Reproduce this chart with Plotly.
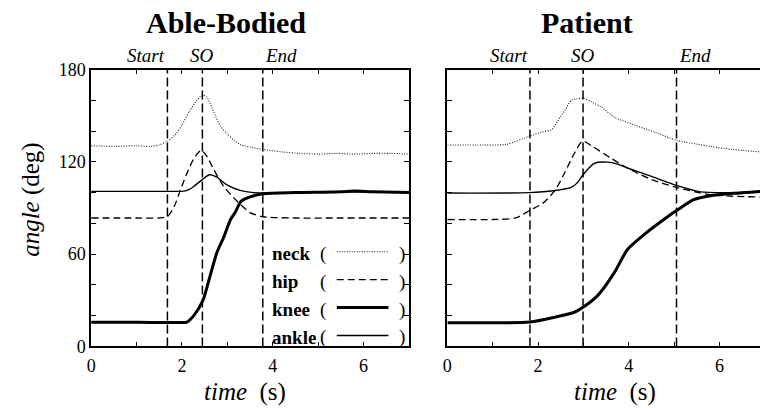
import plotly.graph_objects as go

FONT = "Liberation Serif"

# ---------------- data ----------------
ab_neck_t = [0, 0.5, 1.0, 1.3, 1.5, 1.68, 1.85, 2.0, 2.15, 2.3, 2.45, 2.55, 2.65, 2.75, 2.85, 3.0, 3.15, 3.3, 3.6, 3.8, 4.2, 4.6, 5.0, 5.4, 5.8, 6.2, 6.6, 7.0]
ab_neck_v = [130.5, 130, 130.5, 130, 131, 133.5, 137.5, 144, 152, 159, 163.5, 162, 156, 149, 143, 138, 134, 131, 129, 128, 126.5, 125.5, 125, 125.5, 125, 125.5, 125.5, 125]

ab_hip_t = [0, 1.0, 1.5, 1.68, 1.83, 1.97, 2.11, 2.26, 2.42, 2.55, 2.7, 2.92, 3.21, 3.5, 3.79, 4.5, 5.5, 7.0]
ab_hip_v = [83.5, 83.5, 83.5, 84.5, 91, 102, 112.5, 122, 127.5, 123.5, 115, 104, 94.5, 87, 84.3, 83.5, 83.5, 83.5]

ab_knee_t = [0, 1.0, 2.0, 2.11, 2.26, 2.46, 2.62, 2.77, 2.92, 3.07, 3.17, 3.3, 3.5, 3.79, 4.5, 5.5, 5.8, 6.2, 7.0]
ab_knee_v = [15.7, 15.7, 15.5, 15.8, 20, 29.7, 45.9, 61, 71, 82.5, 87, 94.3, 97.2, 99.3, 100, 100.5, 101, 100.5, 100]

ab_ankle_t = [0, 1.5, 2.04, 2.15, 2.26, 2.44, 2.61, 2.77, 2.99, 3.28, 3.57, 4.5, 5.5, 7.0]
ab_ankle_v = [100.8, 100.8, 101, 102, 104, 108.3, 111.6, 110, 105, 101.4, 100, 100, 100.5, 100]

ab_events = [1.68, 2.45, 3.78]

pt_neck_t = [0, 0.8, 1.3, 1.82, 2.1, 2.3, 2.44, 2.6, 2.73, 2.85, 2.99, 3.17, 3.39, 3.68, 4.12, 4.6, 5.05, 5.5, 5.8, 6.3, 6.89]
pt_neck_v = [131, 131, 131.4, 136.8, 139.5, 141, 147, 154, 160, 161, 161.5, 159, 155.7, 149, 144, 139, 134, 131.5, 130, 128, 126.5]

pt_hip_t = [0, 1.0, 1.5, 1.82, 2.1, 2.37, 2.58, 2.8, 2.98, 3.2, 3.61, 3.97, 4.5, 5.05, 5.8, 6.89]
pt_hip_v = [82.5, 82.5, 83.5, 88.5, 93, 101.4, 112.6, 125.6, 133.5, 130, 122.3, 115.9, 108.5, 103.4, 98.6, 97.1]

pt_knee_t = [0, 1.0, 1.82, 2.37, 2.8, 2.99, 3.31, 3.68, 3.97, 4.34, 4.77, 5.05, 5.43, 5.8, 6.3, 6.89]
pt_knee_v = [15.3, 15.3, 15.8, 19, 22.2, 25.4, 33, 48, 63, 72.8, 82.5, 88.3, 95.4, 98, 99.5, 100.8]

pt_ankle_t = [0, 1.8, 2.37, 2.73, 2.85, 2.99, 3.12, 3.24, 3.53, 3.75, 3.97, 4.5, 5.05, 5.58, 6.2, 6.89]
pt_ankle_v = [99.7, 100, 101.4, 103.4, 106, 111.6, 116, 119, 119.8, 118.5, 116, 110.5, 104.7, 100.5, 100, 100.8]

pt_events = [1.82, 2.99, 5.05]

event_labels = ["Start", "SO", "End"]
panel_titles = ["Able-Bodied", "Patient"]
legend_names = ["neck", "hip", "knee", "ankle"]

x_ticks = [0, 1, 2, 3, 4, 5, 6, 7]
x_text = ["0", "", "2", "", "4", "", "6", ""]
y_ticks = [0, 20, 40, 60, 80, 100, 120, 140, 160, 180]
y_text = ["0", "", "", "60", "", "", "120", "", "", "180"]

W, H = 760, 408
VS = 0.955


def px(x):
    return x / W


def py(y):
    return 1 - (H / 2 + (y - H / 2) / VS) / H


styles = {
    "neck": dict(color="#222", width=1.1, dash="1px,1.5px"),
    "hip": dict(color="black", width=1.3, dash="7px,4px"),
    "knee": dict(color="black", width=3, dash="solid"),
    "ankle": dict(color="black", width=1.4, dash="solid"),
}

fig = go.Figure()

panels = [
    ("x", "y", [(ab_neck_t, ab_neck_v), (ab_hip_t, ab_hip_v), (ab_knee_t, ab_knee_v), (ab_ankle_t, ab_ankle_v)]),
    ("x2", "y2", [(pt_neck_t, pt_neck_v), (pt_hip_t, pt_hip_v), (pt_knee_t, pt_knee_v), (pt_ankle_t, pt_ankle_v)]),
]
for xa, ya, series in panels:
    for name, (t, v) in zip(legend_names, series):
        fig.add_trace(go.Scatter(x=t, y=v, mode="lines", name=name, xaxis=xa, yaxis=ya,
                                 line=dict(shape="spline", smoothing=0.7, **styles[name]),
                                 showlegend=False, hoverinfo="skip"))

anchors = ["right", "center", "left"]
for xa, events in (("x", ab_events), ("x2", pt_events)):
    for ev, lab, anc in zip(events, event_labels, anchors):
        fig.add_shape(type="line", xref=xa, yref="y domain" if xa == "x" else "y2 domain",
                      x0=ev, x1=ev, y0=0, y1=1,
                      line=dict(color="black", width=1.5, dash="9px,4px"))
        fig.add_annotation(x=ev, xref=xa, y=py(55), yref="paper", text=f"<i>{lab}</i>",
                           showarrow=False, xanchor=anc, yanchor="middle",
                           font=dict(family=FONT, size=19, color="black"))

axis_common = dict(showgrid=False, zeroline=False, showline=True, linecolor="black", linewidth=1.5,
                   ticks="inside", ticklen=5, tickwidth=1.2, tickcolor="black",
                   tickfont=dict(family=FONT, size=18, color="black"))

xd1 = [px(86.7), px(406.7)]
xd2 = [px(445.3), 1.0]
yd = [py(347), py(69)]

fig.update_layout(
    width=W, height=H, margin=dict(l=0, r=0, t=0, b=0),
    font=dict(family=FONT, color="black"),
    paper_bgcolor="white", plot_bgcolor="white",
    xaxis=dict(domain=xd1, range=[0, 7], anchor="y", mirror="ticks", ticklabelstandoff=2,
               tickmode="array", tickvals=x_ticks, ticktext=x_text, **axis_common),
    yaxis=dict(domain=yd, range=[0, 180], anchor="x", mirror="ticks",
               tickmode="array", tickvals=y_ticks, ticktext=y_text, **axis_common),
    xaxis2=dict(domain=xd2, range=[0, 6.89], anchor="y2", mirror="ticks", ticklabelstandoff=2,
                tickmode="array", tickvals=x_ticks, ticktext=x_text, **axis_common),
    yaxis2=dict(domain=yd, range=[0, 180], anchor="x2", mirror=False, showticklabels=False,
                tickmode="array", tickvals=y_ticks, ticktext=y_text, **axis_common),
)

for title, xt, xx in zip(panel_titles, [px(222.5), px(586)], [px(241.5), px(614)]):
    fig.add_annotation(x=xt, y=py(22), xref="paper", yref="paper", text=f"<b>{title}</b>",
                       showarrow=False, xanchor="center", yanchor="middle",
                       font=dict(family=FONT, size=30, color="black"))
    fig.add_annotation(x=xx, y=py(393), xref="paper", yref="paper", text="<i>time</i>  (s)",
                       showarrow=False, xanchor="center", yanchor="middle",
                       font=dict(family=FONT, size=25, color="black"))

fig.add_annotation(x=px(26), y=py(199), xref="paper", yref="paper", text="<i>angle</i> (deg)",
                   textangle=-90, showarrow=False, xanchor="center", yanchor="middle",
                   font=dict(family=FONT, size=25, color="black"))

leg_y = [254, 282, 310, 338]
for name, yy in zip(legend_names, leg_y):
    fig.add_annotation(x=px(267), y=py(yy), xref="paper", yref="paper", text=f"<b>{name}</b>",
                       showarrow=False, xanchor="left", yanchor="middle",
                       font=dict(family=FONT, size=19, color="black"))
    fig.add_annotation(x=px(320), y=py(yy), xref="paper", yref="paper", text="(",
                       showarrow=False, xanchor="center", yanchor="middle",
                       font=dict(family=FONT, size=19, color="black"))
    fig.add_annotation(x=px(400), y=py(yy), xref="paper", yref="paper", text=")",
                       showarrow=False, xanchor="center", yanchor="middle",
                       font=dict(family=FONT, size=19, color="black"))
    fig.add_shape(type="line", xref="paper", yref="paper", x0=px(334), x1=px(386),
                  y0=py(yy - 2), y1=py(yy - 2), line=styles[name])

fig.write_html("out.html")
